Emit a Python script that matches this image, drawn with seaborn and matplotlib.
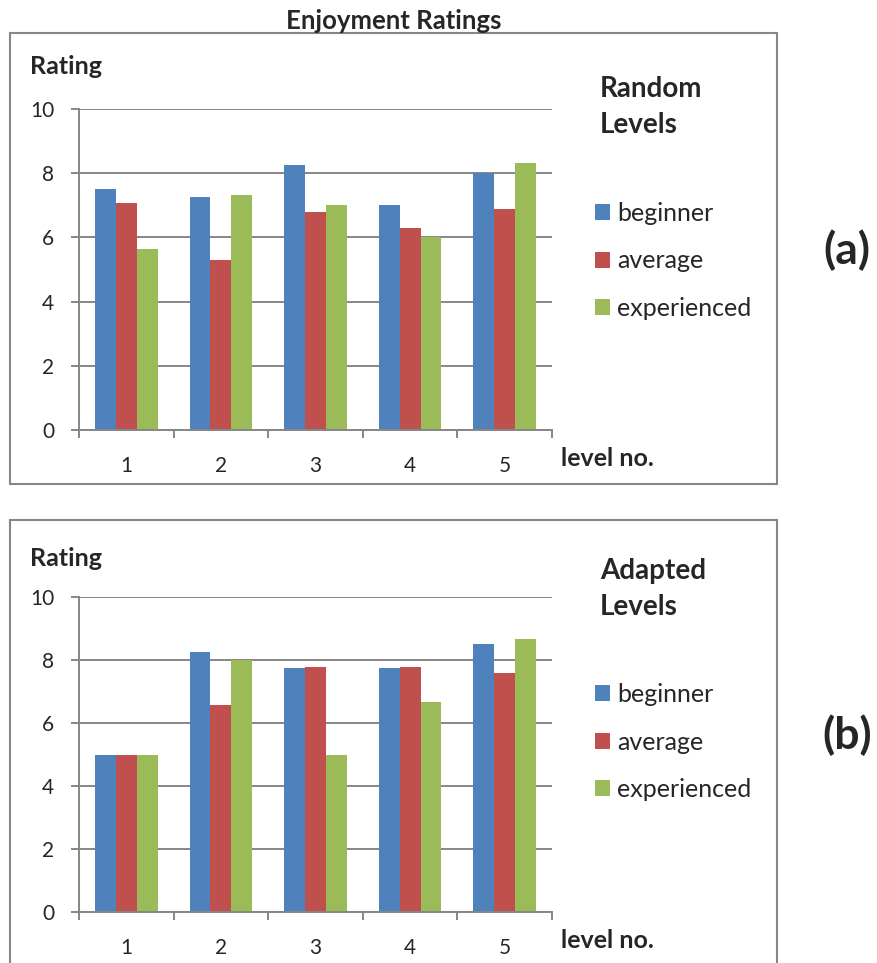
import matplotlib
matplotlib.use('Agg')
import matplotlib.pyplot as plt
from matplotlib.patches import Rectangle
from matplotlib.ticker import FixedLocator
import pandas as pd
import seaborn as sns

# chart data
levels = ['1', '2', '3', '4', '5']
groups = ['beginner', 'average', 'experienced']
random_beginner = [7.5, 7.25, 8.25, 7.0, 8.0]
random_average = [7.08, 5.29, 6.79, 6.29, 6.88]
random_experienced = [5.64, 7.33, 7.0, 6.0, 8.33]
adapted_beginner = [5.0, 8.25, 7.75, 7.75, 8.5]
adapted_average = [5.0, 6.58, 7.78, 7.78, 7.6]
adapted_experienced = [5.0, 8.0, 5.0, 6.67, 8.67]
panel_titles = ['Random\nLevels', 'Adapted\nLevels']
panel_tags = ['(a)', '(b)']
colors = ['#4F81BD', '#C0504D', '#9BBB59']

W, H = 878, 963
GRAY = '#868686'


def long_table(beg, avg, exp):
    rows = []
    for name, vals in zip(groups, (beg, avg, exp)):
        for lvl, v in zip(levels, vals):
            rows.append({'level': lvl, 'group': name, 'rating': v})
    return pd.DataFrame(rows)


def fx(x):
    return x / W


def fy(y):
    return 1 - y / H


sns.set_style('white')
plt.rcParams['font.family'] = ['Lato', 'DejaVu Sans']

fig = plt.figure(figsize=(W / 100, H / 100), dpi=100)
fig.text(fx(394), fy(21), 'Enjoyment Ratings', ha='center', va='center',
         fontsize=18.5, fontweight='bold')

tables = [long_table(random_beginner, random_average, random_experienced),
          long_table(adapted_beginner, adapted_average, adapted_experienced)]
# pixel layout: box top, box bottom, plot top, plot bottom
panels = [(33, 484, 109, 430), (520, 1010, 597, 912)]
# pixel positions of the free texts in each panel
rating_y = [66, 558]
title_y = [107, 589]
legend_top = [202, 683]
tag_y = [250, 735]

for i, (df, (btop, bbot, ptop, pbot)) in enumerate(zip(tables, panels)):
    # outer frame round each panel
    fig.patches.append(Rectangle((fx(10), fy(bbot)), fx(767), (bbot - btop) / H,
                                 transform=fig.transFigure, fill=False,
                                 edgecolor=GRAY, linewidth=1.5))

    ax = fig.add_axes([fx(79), fy(pbot), fx(552 - 79), (pbot - ptop) / H])
    sns.barplot(data=df, x='level', y='rating', hue='group', palette=colors,
                saturation=1, width=0.66, ax=ax, linewidth=0)
    ax.set_xlim(-0.5, 4.5)
    ax.set_ylim(0, 10)
    ax.set_yticks([0, 2, 4, 6, 8, 10])
    ax.yaxis.grid(True, color=GRAY, linewidth=1.4)
    ax.set_axisbelow(True)
    for s in ['top', 'right']:
        ax.spines[s].set_visible(False)
    for s in ['left', 'bottom']:
        ax.spines[s].set_color(GRAY)
        ax.spines[s].set_linewidth(1.4)
    ax.xaxis.set_minor_locator(FixedLocator([-0.5, 0.5, 1.5, 2.5, 3.5, 4.5]))
    ax.tick_params(axis='x', which='major', length=0, pad=19, labelsize=15)
    ax.tick_params(axis='x', which='minor', length=5.8, width=1.4, color=GRAY,
                   direction='out', bottom=True)
    ax.tick_params(axis='y', length=5.8, width=1.4, color=GRAY, direction='out',
                   left=True, pad=12, labelsize=15)
    ax.set_xlabel('')
    ax.set_ylabel('')

    ax.legend(loc='upper left', bbox_to_anchor=(fx(595), fy(legend_top[i])),
              bbox_transform=fig.transFigure, frameon=False, fontsize=18,
              handlelength=0.6, handleheight=0.6, handletextpad=0.3,
              labelspacing=0.98, borderaxespad=0, borderpad=0)

    fig.text(fx(30), fy(rating_y[i]), 'Rating', ha='left', va='center',
             fontsize=18, fontweight='bold')
    fig.text(fx(600), fy(title_y[i]), panel_titles[i], ha='left', va='center',
             fontsize=20, fontweight='bold', linespacing=1.45)
    fig.text(fx(561), fy(pbot + 28), 'level no.', ha='left', va='center',
             fontsize=18, fontweight='bold')
    fig.text(fx(847), fy(tag_y[i]), panel_tags[i], ha='center',
             va='center', fontsize=32, fontweight='bold')

fig.savefig('out.png', dpi=100)
